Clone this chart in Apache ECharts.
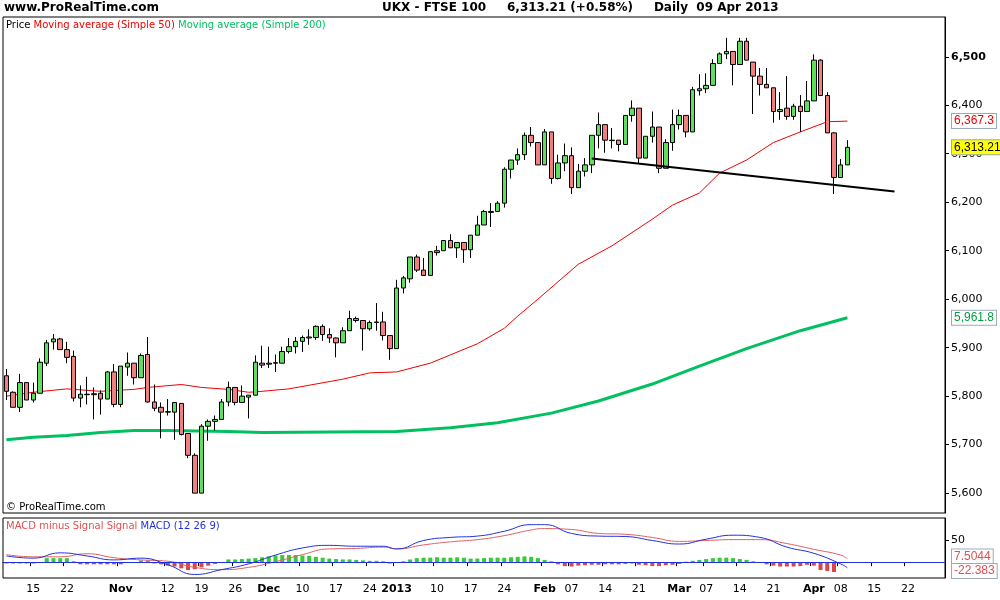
<!DOCTYPE html>
<html><head><meta charset="utf-8">
<script src="https://cdn.jsdelivr.net/npm/echarts@6/dist/echarts.min.js"></script>
<style>html,body{margin:0;padding:0;background:#fff}#c{width:1000px;height:600px}</style>
</head><body><div id="c"></div>
<script>
// OHLC [open, close, low, high], Oct 9 2012 .. Apr 9 2013
const ohlc = [
[5842,5810,5792,5856],[5808,5777,5777,5810],[5777,5828,5767,5846],[5828,5792,5792,5828],[5792,5806,5787,5828],
[5806,5870,5806,5878],[5868,5910,5862,5916],[5912,5918,5896,5928],[5918,5896,5895,5920],[5896,5880,5868,5912],
[5882,5796,5789,5894],[5796,5804,5777,5822],[5803,5804,5783,5840],[5805,5803,5752,5818],[5806,5794,5762,5812],
[5794,5850,5794,5852],[5850,5783,5777,5866],[5783,5862,5777,5862],[5860,5868,5842,5890],[5868,5838,5824,5868],
[5838,5884,5838,5888],[5886,5788,5787,5922],[5788,5775,5769,5824],[5777,5767,5713,5787],[5767,5768,5760,5794],
[5767,5787,5710,5787],[5785,5721,5719,5785],[5723,5678,5672,5723],[5678,5600,5600,5682],[5600,5738,5600,5742],
[5738,5748,5708,5752],[5748,5752,5729,5760],[5752,5788,5752,5794],[5788,5818,5779,5830],[5818,5787,5781,5818],
[5787,5800,5787,5822],[5798,5802,5754,5802],[5802,5870,5802,5884],[5868,5864,5858,5904],[5866,5868,5858,5902],
[5868,5869,5850,5886],[5868,5892,5868,5902],[5892,5902,5888,5920],[5902,5913,5888,5922],[5913,5921,5891,5925],
[5920,5922,5906,5938],[5921,5944,5916,5946],[5944,5927,5914,5948],[5927,5920,5910,5940],[5920,5910,5880,5921],
[5910,5935,5910,5942],[5935,5960,5935,5976],[5960,5956,5952,5964],[5956,5939,5894,5956],[5939,5952,5935,5956],
[5952,5953,5935,5992],[5953,5925,5915,5974],[5925,5898,5875,5925],[5898,6023,5898,6040],[6023,6044,6012,6048],
[6042,6087,6034,6087],[6087,6060,6056,6092],[6060,6049,6049,6085],[6049,6098,6049,6098],[6096,6100,6090,6110],
[6100,6121,6100,6122],[6121,6106,6106,6134],[6106,6117,6085,6117],[6117,6102,6075,6117],[6102,6132,6085,6132],
[6132,6153,6132,6172],[6153,6181,6153,6184],[6179,6181,6149,6198],[6181,6198,6181,6202],[6198,6268,6189,6272],
[6268,6287,6249,6287],[6287,6298,6277,6311],[6298,6338,6287,6344],[6338,6323,6315,6355],[6323,6277,6277,6323],
[6277,6345,6277,6351],[6345,6249,6238,6345],[6249,6281,6247,6298],[6281,6296,6264,6321],[6296,6230,6217,6313],
[6230,6264,6230,6279],[6264,6277,6253,6291],[6277,6338,6260,6338],[6338,6360,6311,6385],[6360,6328,6302,6360],
[6327,6328,6311,6353],[6328,6319,6305,6328],[6319,6379,6319,6379],[6379,6394,6366,6410],[6394,6291,6281,6394],
[6291,6336,6291,6336],[6336,6355,6323,6387],[6355,6270,6260,6355],[6270,6323,6270,6330],[6323,6360,6306,6391],
[6360,6379,6350,6391],[6379,6345,6334,6379],[6345,6432,6345,6438],[6430,6434,6420,6464],[6434,6441,6425,6466],
[6441,6486,6441,6495],[6486,6506,6486,6509],[6506,6511,6495,6539],[6511,6484,6441,6511],[6484,6532,6484,6539],
[6532,6493,6493,6539],[6489,6460,6382,6489],[6460,6443,6420,6477],[6443,6436,6436,6477],[6436,6387,6364,6436],
[6387,6391,6370,6427],[6394,6377,6370,6460],[6377,6398,6370,6403],[6398,6387,6345,6421],[6387,6409,6387,6450],
[6409,6493,6409,6505],[6493,6420,6420,6495],[6420,6343,6343,6427],[6343,6251,6217,6345],[6251,6277,6251,6289],
[6277,6313.21,6277,6328]
];
const ma50Idx = [0,4,9,14,19,21,26,29,33,36,38,42,46,50,54,58,63,70,74,76,79,85,90,96,99,103,106,110,114,118,122,125];
const ma50Val = [5800,5808,5815,5810,5814,5818,5824,5818,5814,5808,5810,5815,5825,5835,5848,5850,5868,5908,5940,5965,6000,6072,6110,6165,6194,6219,6260,6287,6323,6345,6366,6367.3];
const ma200Idx = [0,4,9,14,19,24,33,38,58,66,73,81,88,96,103,110,118,125];
const ma200Val = [5710,5715,5719,5725,5729,5729,5727,5725,5727,5735,5745,5765,5790,5825,5862,5898,5935,5961.8];
const trendLine = [[87,6290],[132,6222]];
const macdIdx = [0,4,8,12,16,20,24,28,32,36,40,44,48,52,56,58,62,66,70,74,78,80,84,88,92,96,100,104,108,112,116,120,124,125];
const macdVal = [14,9,21,14,5,9,-6,-28,-17,-4,16,32,38,36,36,30,49,56,59,70,85,85,65,59,58,49,41,52,61,56,34,20,-4,-13];
const signalVal = [17,12,12,19,10,5,2,-12,-17,-12,1,17,30,31,34,30,39,46,51,60,73,76,74,65,63,56,47,49,51,51,42,29,16,7.5];
const hist = [-3,-3,-3,-3,-3,0,9,9,9,9,2,-5,-5,-5,-5,-5,-5,-5,0,0,4,4,-3,-5,-8,-10,-14,-18,-16,-12,-8,-4,0,
6,6,7,8,9,11,13,15,16,16,16,15,14,12,10,8,7,6,6,5,4,3,3,2,-3,0,2,6,9,10,10,11,10,10,11,10,8,8,9,10,10,10,11,12,13,12,9,5,2,
-5,-9,-10,-8,-7,-6,-6,-5,-5,-5,-4,-3,-6,-7,-9,-9,-7,-6,-4,1,3,5,7,9,10,10,9,7,5,2,-2,-5,-8,-10,-10,-10,-9,-6,-8,-18,-20,-22.383];
const holidays = ['2012-12-25','2012-12-26','2013-01-01','2013-03-29','2013-04-01'];
const tickLabels = [['2012-10-15','15'],['2012-10-22','22'],['2012-11-01','Nov'],['2012-11-12','12'],['2012-11-19','19'],['2012-11-26','26'],
['2012-12-03','Dec'],['2012-12-10','10'],['2012-12-17','17'],['2012-12-24','24'],['2013-01-02','2013'],['2013-01-10','10'],['2013-01-17','17'],
['2013-01-24','24'],['2013-02-01','Feb'],['2013-02-07','07'],['2013-02-14','14'],['2013-02-21','21'],['2013-03-01','Mar'],['2013-03-07','07'],
['2013-03-14','14'],['2013-03-21','21'],['2013-04-02','Apr'],['2013-04-08','08'],['2013-04-15','15'],['2013-04-22','22']];
const bold = new Set(['Nov','Dec','2013','Feb','Mar','Apr']);
const valueBoxes = [['6,367.3',6367.3,0,'#ee0000','#fff'],['6,313.21',6313.21,0,'#000','#ffff00'],['5,961.8',5961.8,0,'#00a040','#fff'],
  ['7.5044',13,1,'#e05050','#fff'],['-22.383',-20,1,'#e05050','#fff']];

const dates = [];
let d = new Date(Date.UTC(2012,9,9));
while (dates.length < 140) {
  const s = d.toISOString().slice(0,10), wd = d.getUTCDay();
  if (wd !== 0 && wd !== 6 && !holidays.includes(s)) dates.push(s);
  d = new Date(d.getTime() + 86400000);
}
const tickMap = Object.fromEntries(tickLabels);
const sparse = (idx, val) => { const a = new Array(126).fill(null); idx.forEach((i,k)=>a[i]=val[k]); return a; };
const fmt = v => Number(v).toLocaleString('en-US');
const F = 'DejaVu Sans';

const chart = echarts.init(document.getElementById('c'));
const tickInt = (i, v) => tickMap[v] !== undefined;
const baseGraphic = [
    {type:'rect', shape:{x:3,y:17,width:942,height:496}, style:{fill:'none',stroke:'#000',lineWidth:1}, z:-1},
    {type:'rect', shape:{x:3,y:518,width:942,height:60}, style:{fill:'none',stroke:'#000',lineWidth:1}, z:-1},
    {type:'text', left:4, top:2, style:{text:'www.ProRealTime.com', font:'bold 12px '+F, fill:'#000'}},
    {type:'text', left:382, top:2, style:{text:'UKX - FTSE 100     6,313.21 (+0.58%)     Daily  09 Apr 2013', font:'bold 12px '+F, fill:'#000'}},
    {type:'text', left:6, top:20, style:{rich:{a:{fill:'#000',fontSize:10,fontFamily:F},b:{fill:'#e00',fontSize:10,fontFamily:F},c:{fill:'#00c060',fontSize:10,fontFamily:F}},
      text:'{a|Price }{b|Moving average (Simple 50) }{c|Moving average (Simple 200)}'}},
    {type:'text', left:6, top:502, style:{text:'© ProRealTime.com', font:'10px '+F, fill:'#000'}},
    {type:'text', left:6, top:521, style:{rich:{b:{fill:'#e05050',fontSize:10,fontFamily:F},c:{fill:'#2030e0',fontSize:10,fontFamily:F}},
      text:'{b|MACD minus Signal Signal }{c|MACD (12 26 9)}'}}
];
chart.setOption({
  animation:false,
  textStyle:{fontFamily:F},
  graphic:baseGraphic,
  grid:[{left:3,right:55,top:17,height:496},{left:3,right:55,top:518,height:60}],
  xAxis:[
    {type:'category', data:dates, gridIndex:0, axisLabel:{show:false}, axisTick:{show:false}, axisLine:{show:false}, splitLine:{show:false}},
    {type:'category', data:dates, gridIndex:1, axisLine:{lineStyle:{color:'#000'}}, splitLine:{show:false},
      axisTick:{show:true, interval:tickInt, length:4, lineStyle:{color:'#000'}},
      axisLabel:{interval:tickInt, margin:6, fontSize:11, color:'#000',
        formatter:v => bold.has(tickMap[v]) ? '{b|'+tickMap[v]+'}' : tickMap[v],
        rich:{b:{fontWeight:'bold',fontSize:11}}}}
  ],
  yAxis:[
    {type:'value', gridIndex:0, position:'right', min:5559, max:6582, scale:true,
      axisLine:{show:true,lineStyle:{color:'#000'}}, splitLine:{show:false},
      axisTick:{show:true, customValues:[5600,5700,5800,5900,6000,6100,6200,6300,6400,6500], length:4, lineStyle:{color:'#000'}},
      axisLabel:{customValues:[5600,5700,5800,5900,6000,6100,6200,6300,6400,6500], color:'#000', fontSize:11, margin:6,
        formatter:v => v===6500 ? '{b|'+fmt(v)+'}' : fmt(v), rich:{b:{fontWeight:'bold',fontSize:11}}}},
    {type:'value', gridIndex:1, position:'right', min:-36, max:100,
      axisLine:{show:true,lineStyle:{color:'#000'}}, splitLine:{show:false},
      axisTick:{show:true, customValues:[50], length:4},
      axisLabel:{customValues:[50], color:'#000', fontSize:11, margin:6}}
  ],
  series:[
    {type:'line', xAxisIndex:0, yAxisIndex:0, data:sparse(ma200Idx, ma200Val), connectNulls:true, showSymbol:false,
      lineStyle:{color:'#00c060', width:3}, z:1},
    {type:'line', xAxisIndex:0, yAxisIndex:0, data:sparse(ma50Idx, ma50Val), connectNulls:true, showSymbol:false,
      lineStyle:{color:'#ee0000', width:1}, z:1},
    {type:'candlestick', xAxisIndex:0, yAxisIndex:0, data:ohlc, barWidth:5, z:3,
      itemStyle:{color:'#5ee05e', color0:'#f08080', borderColor:'#000', borderColor0:'#000', borderWidth:1}},
    {type:'line', xAxisIndex:0, yAxisIndex:0, data:trendLine, showSymbol:false, lineStyle:{color:'#000', width:2}, z:4},
    {type:'bar', xAxisIndex:1, yAxisIndex:1, data:hist.map(v=>({value:v, itemStyle:{color:v>=0?'#33cc33':'#dd4444'}})), barWidth:4,
      markLine:{silent:true, symbol:'none', lineStyle:{color:'#2030e0', width:1, type:'solid'}, data:[{yAxis:0}], label:{show:false}}},
    {type:'line', xAxisIndex:1, yAxisIndex:1, data:sparse(macdIdx, signalVal), connectNulls:true, showSymbol:false, smooth:true,
      lineStyle:{color:'#e06060', width:1}},
    {type:'line', xAxisIndex:1, yAxisIndex:1, data:sparse(macdIdx, macdVal), connectNulls:true, showSymbol:false, smooth:true,
      lineStyle:{color:'#2030e0', width:1}}
  ]
});
const boxes = valueBoxes.map(([t,v,ax,col,bg]) => {
  const y = chart.convertToPixel({yAxisIndex:ax}, v);
  return {type:'text', x:952, y:y, style:{text:t, fill:col, font:'12px "Liberation Sans"', backgroundColor:bg, borderColor:'#99aabb', borderWidth:1,
    padding:[1,2], verticalAlign:'middle'}, z:10};
});
chart.setOption({graphic: baseGraphic.concat(boxes)});
</script></body></html>
